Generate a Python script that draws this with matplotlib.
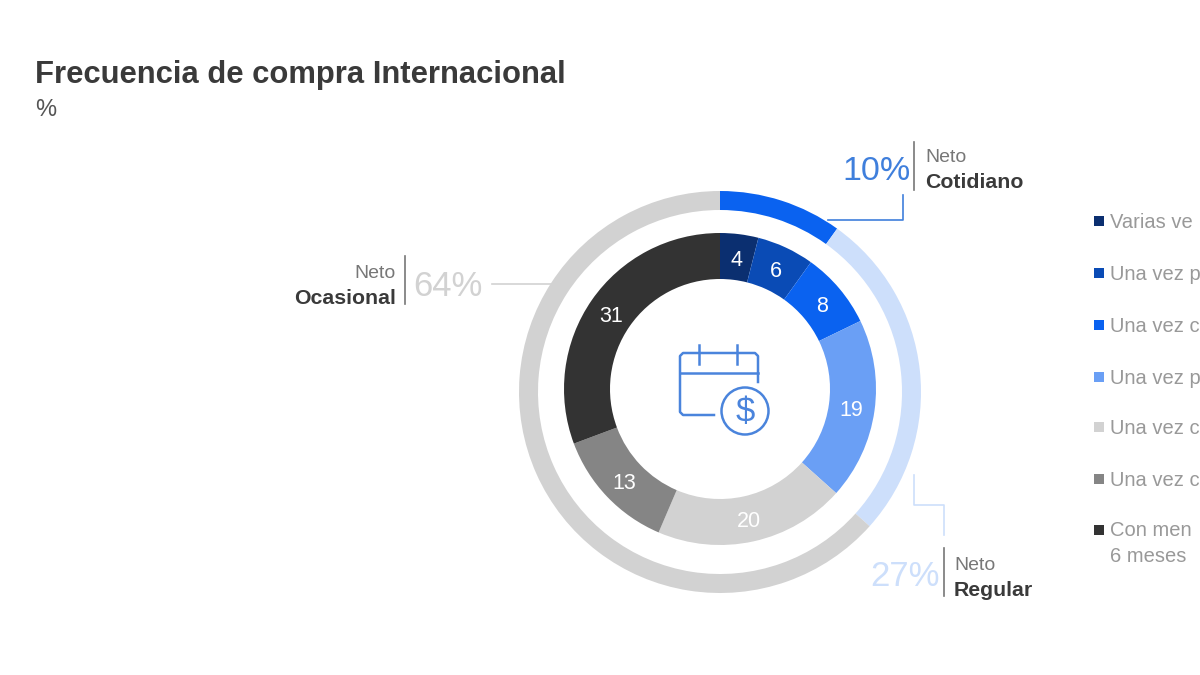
import numpy as np
import matplotlib
matplotlib.use("Agg")
import matplotlib.pyplot as plt
from matplotlib.patches import Circle, Rectangle

plt.rcParams["font.family"] = ["Liberation Sans", "DejaVu Sans"]

# inner ring
freq_values = [4, 6, 8, 19, 20, 13, 31]
freq_colors = ["#0b2f70", "#0a4bb5", "#0a62f0", "#6a9ff5", "#d2d2d2", "#858585", "#333333"]
legend_labels = ["Varias ve", "Una vez p", "Una vez c", "Una vez p", "Una vez c", "Una vez c", "Con men\n6 meses"]

# outer ring
net_values = [10, 27, 64]
net_colors = ["#0a62f0", "#cddffb", "#d2d2d2"]
net_pct = ["10%", "27%", "64%"]
net_names = ["Cotidiano", "Regular", "Ocasional"]

H = 675


def Y(y):
    # reference was read in pixels from the top
    return H - y


fig = plt.figure(figsize=(12, 6.75), dpi=100)
ax = fig.add_axes([0, 0, 1, 1])

ax.pie(net_values, colors=net_colors, startangle=90, counterclock=False, radius=201,
       center=(720, Y(392)), wedgeprops={"width": 19, "linewidth": 0}, frame=True)
wedges, _ = ax.pie(freq_values, colors=freq_colors, startangle=90, counterclock=False, radius=156,
                   center=(720, Y(389)), wedgeprops={"width": 46, "linewidth": 0}, frame=True)

for w, v in zip(wedges, freq_values):
    a = np.deg2rad((w.theta1 + w.theta2) / 2)
    ax.text(720 + 133 * np.cos(a), Y(392) + 133 * np.sin(a), str(v), color="white",
            fontsize=15.5, ha="center", va="center")

ax.set_xlim(0, 1200)
ax.set_ylim(0, H)
ax.set_aspect("auto")
ax.axis("off")

# title
ax.text(35, Y(74.5), "Frecuencia de compra Internacional", fontsize=22.3, fontweight="bold",
        color="#3a3a3a", va="center")
ax.text(35, Y(110), "%", fontsize=17, color="#555555", va="center")

# net callouts
sep = "#777777"
ax.plot([828, 903, 903], [Y(220), Y(220), Y(195)], color="#3f7fdc", lw=1.2)
ax.plot([914, 914, 944, 944], [Y(475), Y(505), Y(505), Y(535)], color=net_colors[1], lw=1.2)
ax.plot([492, 553], [Y(284), Y(284)], color=net_colors[2], lw=1.2)

ax.plot([914, 914], [Y(142), Y(190)], color=sep, lw=1.2)
ax.plot([943.5, 943.5], [Y(548), Y(596)], color=sep, lw=1.2)
ax.plot([405, 405], [Y(256), Y(304)], color=sep, lw=1.2)

ax.text(911, Y(172), net_pct[0], fontsize=24.5, color="#3f7fdc", ha="right", va="center")
ax.text(925, Y(158), "Neto", fontsize=14, color="#777777", va="center")
ax.text(925, Y(183), net_names[0], fontsize=15.3, fontweight="bold", color="#3a3a3a", va="center")

ax.text(940, Y(577), net_pct[1], fontsize=25, color=net_colors[1], ha="right", va="center")
ax.text(954, Y(566), "Neto", fontsize=14, color="#777777", va="center")
ax.text(954, Y(590), net_names[1], fontsize=15.3, fontweight="bold", color="#3a3a3a", va="center")

ax.text(413, Y(287), net_pct[2], fontsize=25, color=net_colors[2], ha="left", va="center")
ax.text(396, Y(274), "Neto", fontsize=14, color="#777777", ha="right", va="center")
ax.text(396, Y(299), net_names[2], fontsize=15.3, fontweight="bold", color="#3a3a3a", ha="right", va="center")

# legend
legend_y = [221, 273, 325, 377, 427, 479, 530]
for y, c, lab in zip(legend_y, freq_colors, legend_labels):
    ax.add_patch(Rectangle((1094, Y(y) - 5), 10, 10, color=c, lw=0))
    ax.text(1110, Y(y) + 8.5, lab, fontsize=14.5, color="#999999", va="top", linespacing=1.42)

# calendar icon
icon = "#4a84dc"
ax.plot([714, 683, 680, 680, 683, 755, 758, 758], [Y(415), Y(415), Y(412), Y(356), Y(353), Y(353), Y(356), Y(382)],
        color=icon, lw=1.8)
ax.plot([680, 758], [Y(373), Y(373)], color=icon, lw=1.8)
ax.plot([699, 699], [Y(345), Y(364)], color=icon, lw=1.8)
ax.plot([737, 737], [Y(345), Y(364)], color=icon, lw=1.8)
ax.add_patch(Circle((745, Y(411)), 23.5, fill=False, ec=icon, lw=1.8))
ax.text(745, Y(412), "$", fontsize=25, color=icon, ha="center", va="center")

fig.savefig("out.png", dpi=100)
